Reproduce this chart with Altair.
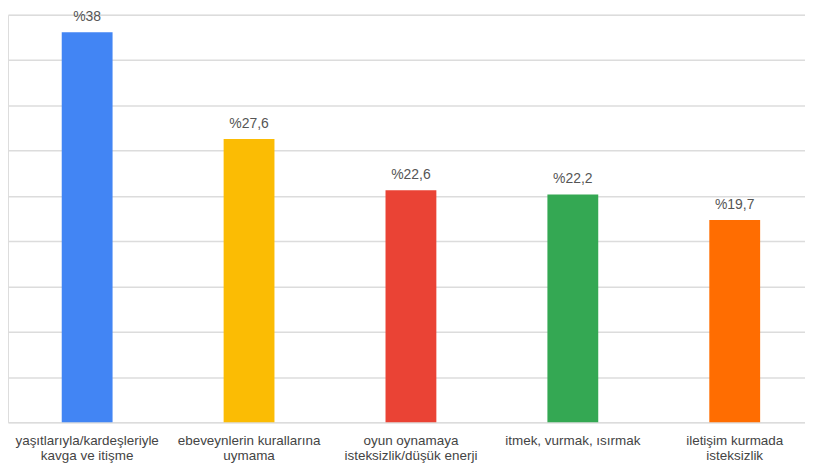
import altair as alt
import pandas as pd

categories = [
    "yaşıtlarıyla/kardeşleriyle\nkavga ve itişme",
    "ebeveynlerin kurallarına\nuymama",
    "oyun oynamaya\nisteksizlik/düşük enerji",
    "itmek, vurmak, ısırmak",
    "iletişim kurmada\nisteksizlik",
]
values = [38, 27.6, 22.6, 22.2, 19.7]
value_labels = ["%38", "%27,6", "%22,6", "%22,2", "%19,7"]
colors = ["#4285F4", "#FBBC04", "#EA4335", "#34A853", "#FF6D01"]

df = pd.DataFrame({"cat": categories, "val": values, "lab": value_labels, "col": colors})

y_max = 39.7
grid_vals = [i * y_max / 9 for i in range(10)]

x_enc = alt.X(
    "cat:N",
    sort=categories,
    scale=alt.Scale(paddingInner=0.686, paddingOuter=0.3045, align=0.545),
    axis=alt.Axis(
        title=None,
        labelAngle=0,
        labelExpr="split(datum.label, '\\n')",
        labelFont="Liberation Sans",
        labelFontSize=13.5,
        labelColor="#444444",
        labelPadding=11,
        labelLineHeight=15,
        ticks=False,
        domain=False,
        labelBaseline="top",
    ),
)
y_enc = alt.Y(
    "val:Q",
    scale=alt.Scale(domain=[0, y_max], nice=False, zero=True),
    axis=alt.Axis(
        title=None,
        values=grid_vals,
        labels=False,
        ticks=False,
        domain=False,
        grid=True,
        gridColor="#dcdcdc",
        gridWidth=1.5,
    ),
)

bars = alt.Chart(df).mark_bar().encode(
    x=x_enc,
    y=y_enc,
    color=alt.Color("col:N", scale=None),
)

text = alt.Chart(df).mark_text(
    baseline="middle",
    dy=-15,
    font="Liberation Sans",
    fontSize=14,
    color="#555555",
).encode(
    x=alt.X("cat:N", sort=categories),
    y=alt.Y("val:Q"),
    text="lab:N",
)

chart = (
    alt.layer(bars, text)
    .properties(
        width=800,
        height=409,
        autosize=alt.AutoSizeParams(type="none"),
        padding={"left": 0, "right": 0, "top": 6, "bottom": 42},
    )
    .configure_view(stroke=None)
    .configure(background="white")
)

chart.save("out.html", embed_options={"renderer": "svg", "actions": False})
